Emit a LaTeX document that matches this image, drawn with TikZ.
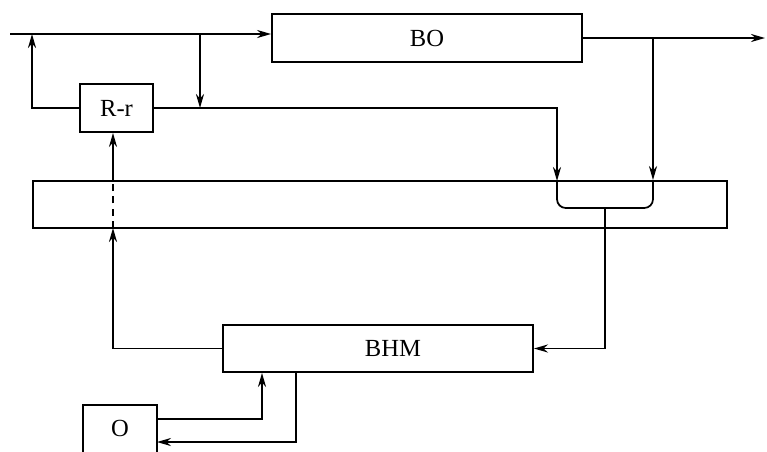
\documentclass[tikz,border=0pt]{standalone}
\usepackage{fontspec}
\setmainfont{Liberation Serif}
\usetikzlibrary{arrows.meta,positioning,calc}

\begin{document}
\begin{tikzpicture}[
    x=0.02cm, y=-0.02cm,
    block/.style={draw, line width=1.1pt, inner sep=0pt, font=\fontsize{14}{16}\selectfont},
    sig/.style={line width=1pt},
    arr/.style={sig, -{Stealth[length=8pt,width=4.6pt]}}
]
\useasboundingbox (0,0) rectangle (767,451);

% blocks
\node[block, minimum width=6.2cm, minimum height=0.96cm] (bo) at (427,38) {BO};
\node[block, minimum width=1.46cm, minimum height=0.96cm] (rr) at (116.5,108) {R-r};
\node[block, minimum width=13.88cm, minimum height=0.94cm] (bus) at (380,204.5) {};
\node[block, minimum width=6.2cm, minimum height=0.94cm] (bhm) at (378,348.5) {\hspace*{0.6cm}BHM};
\node[block, draw=none, minimum width=1.44cm, minimum height=0.9cm] (o) at (120,428.5) {O};
\draw[line width=1.1pt] (o.south west) -- (o.north west) -- (o.north east) -- (o.south east);

% points on the lines
\coordinate (in) at (10,34);
\coordinate (tap) at (200,34);
\coordinate (fbtop) at (32,34);
\coordinate (out) at (765,38);
\coordinate (tapo) at (653,38);
\coordinate (jl) at (557,181);
\coordinate (mrg) at (605,208);
\coordinate (colt) at (113,181);
\coordinate (colb) at (113,228);
\coordinate (ui) at (262,419);
\coordinate (uo) at (296,442);

% top line
\draw[arr] (in) -- (in -| bo.west);
\draw[arr] (bo.east) -- (out);
\draw[arr] (tapo) -- (tapo |- bus.north);
\draw[arr] (tap) -- (tap |- rr.east);
\draw[arr] (rr.west) -| (fbtop);
\draw[arr] (rr.east) -| (jl);

% join inside the bus
\draw[sig, rounded corners=5pt] (jl) |- (mrg) -| (tapo |- bus.north);
\draw[arr] (mrg) |- (bhm.east);

% back to R-r
\draw[arr] (bhm.west) -| (colb);
\draw[sig, dash pattern=on 4pt off 3pt] (colb) -- (colt);
\draw[arr] (colt) -- (colt |- rr.south);

% O and BHM
\draw[arr] (o.east |- ui) -| (ui |- bhm.south);
\draw[arr] (uo |- bhm.south) |- (o.east |- uo);

\end{tikzpicture}
\end{document}
